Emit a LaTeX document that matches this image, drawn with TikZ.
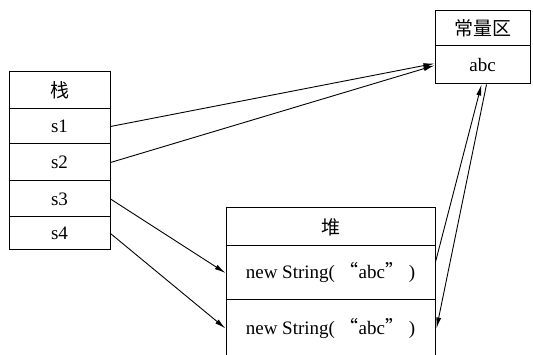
\documentclass[tikz,border=0pt]{standalone}
\usepackage{fontspec}
\setmainfont{Liberation Serif}
\newfontfamily\cjk{Noto Sans CJK SC}
\usetikzlibrary{arrows.meta,calc}
\begin{document}
\begin{tikzpicture}[x=1pt,y=-1pt,
  cell/.style={draw,line width=1pt,inner sep=0pt,rectangle,
    font=\fontsize{19}{22}\selectfont},
  arr/.style={line width=0.9pt,-{Latex[length=11pt,width=5pt]}}]
\useasboundingbox (0,0) rectangle (533,355);
% stack
\node[cell,minimum width=101pt,minimum height=37pt] (stk) at (59.5,90.5) {\cjk 栈};
\node[cell,minimum width=101pt,minimum height=35pt] (s1) at (59.5,126.5) {s1};
\node[cell,minimum width=101pt,minimum height=37pt] (s2) at (59.5,162.5) {s2};
\node[cell,minimum width=101pt,minimum height=36pt] (s3) at (59.5,199) {s3};
\node[cell,minimum width=101pt,minimum height=33pt] (s4) at (59.5,233.5) {s4};
% constant pool
\node[cell,minimum width=95pt,minimum height=35pt] (cp) at (482.5,28.5) {\cjk 常量区};
\node[cell,minimum width=95pt,minimum height=38pt] (abc) at (482.5,65) {abc};
% heap
\node[cell,minimum width=209pt,minimum height=38pt] (hp) at (330.5,227) {\cjk 堆};
\node[cell,minimum width=209pt,minimum height=54pt] (h1) at (330.5,273) {new String( {\cjk “}abc{\cjk ”} )};
\node[cell,minimum width=209pt,minimum height=57pt] (h2) at (330.5,328.5) {new String( {\cjk “}abc{\cjk ”} )};
% references
\draw[arr] (s1.east) -- ($(abc.west)+(0,-1.5)$);
\draw[arr] (s2.east) -- ($(abc.west)+(0,0.5)$);
\draw[arr] (s3.east) -- (h1.west);
\draw[arr] (s4.east) -- (h2.west);
\draw[arr] ($(h1.east)+(0,-11)$) -- ($(abc.south)+(-1,0)$);
\draw[arr] ($(abc.south)+(4,0)$) -- ($(h2.east)+(1,0)$);
\end{tikzpicture}
\end{document}
